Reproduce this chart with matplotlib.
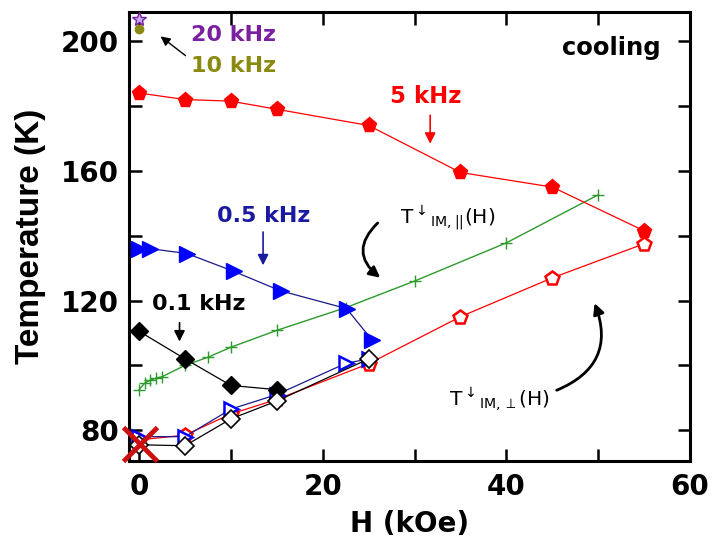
import matplotlib
matplotlib.use('Agg')
import matplotlib.pyplot as plt
from matplotlib.ticker import MultipleLocator

plt.rcParams['font.family'] = ['DejaVu Sans']
plt.rcParams['mathtext.fontset'] = 'dejavusans'

# 5 kHz (filled / open pentagons)
h_5k = [0, 5, 10, 15, 25, 35, 45, 55]
t_5k_par = [184, 182, 181.5, 179, 174, 159.5, 155, 141.5]
t_5k_perp = [77, 78.5, 85, 89.5, 100.5, 115, 127, 137.5]

# 0.5 kHz (filled / open triangles)
h_05k_par = [0, 1.2, 5.2, 10.3, 15.4, 22.6, 25.4]
t_05k_par = [136, 136, 134.5, 129, 123, 117.5, 107.7]
h_05k_perp = [0, 5, 10, 15, 22.5, 25]
t_05k_perp = [78, 78, 86.5, 91, 100.6, 102]

# 0.1 kHz (filled / open diamonds)
h_01k_par = [0, 5, 10, 15]
t_01k_par = [110.5, 102, 93.8, 92.5]
h_01k_perp = [0, 5, 10, 15, 25]
t_01k_perp = [75.5, 75.2, 83.5, 89, 102]

# T_IM,|| (green crosses)
h_green = [0, 0.6, 1.2, 1.8, 2.5, 5, 7.5, 10, 15, 22.5, 30, 40, 50]
t_green = [92.5, 94.5, 95.4, 96, 96.5, 100, 102.5, 105.6, 110.8, 117.8, 126, 137.8, 152.6]

# single points
h_20k, t_20k = [0], [206.8]
h_10k, t_10k = [0], [203.7]
h_x, t_x = [0.1], [75.6]

fig = plt.figure(figsize=(7.14, 5.46), dpi=100)
ax = fig.add_axes([0.1807, 0.1557, 0.7857, 0.8223])

red = '#ff0000'
blue = '#0000ff'
navy = '#1a1a8a'
green = '#2e9a2e'
purple = '#7a1fa0'
olive = '#8a8a10'

ax.plot(h_5k, t_5k_par, '-', color=red, lw=0.9, marker='p', ms=11,
        mfc=red, mec=red, zorder=3)
ax.plot(h_5k, t_5k_perp, '-', color=red, lw=0.9, marker='p', ms=10,
        mfc='white', mec=red, mew=1.8, zorder=3)
ax.plot(h_green, t_green, '-', color=green, lw=1.0, marker='+', ms=9,
        mew=1.0, zorder=2)
ax.plot(h_05k_par, t_05k_par, '-', color=navy, lw=0.9, marker='>', ms=11,
        mfc=blue, mec=blue, zorder=4)
ax.plot(h_05k_perp, t_05k_perp, '-', color=navy, lw=0.9, marker='>', ms=10,
        mfc='white', mec=blue, mew=1.8, zorder=4)
ax.plot(h_01k_par, t_01k_par, '-', color='black', lw=0.9, marker='D', ms=9,
        mfc='black', mec='black', zorder=5)
ax.plot(h_01k_perp, t_01k_perp, '-', color='black', lw=0.9, marker='D', ms=9,
        mfc='white', mec='black', mew=1.2, zorder=5)
ax.plot(h_20k, t_20k, '*', color=purple, ms=10, mfc='#c8a8e8', mec=purple, zorder=5)
ax.plot(h_10k, t_10k, 'o', color=olive, ms=6, mfc=olive, mec=olive, zorder=5)
ax.plot(h_x, t_x, 'x', color='#cc1010', ms=24, mew=3.5, zorder=6, clip_on=False)

ax.set_xlim(-1.1, 60)
ax.set_ylim(70.5, 209)
ax.xaxis.set_major_locator(MultipleLocator(20))
ax.xaxis.set_minor_locator(MultipleLocator(10))
ax.yaxis.set_major_locator(MultipleLocator(40))
ax.yaxis.set_minor_locator(MultipleLocator(20))
ax.tick_params(which='both', direction='in', top=True, right=True, width=1.8)
ax.tick_params(which='major', length=9, labelsize=20)
ax.tick_params(which='minor', length=9)
ax.tick_params(axis='x', pad=9)
ax.tick_params(axis='y', pad=7)
for lab in ax.get_xticklabels() + ax.get_yticklabels():
    lab.set_fontweight('bold')
for s in ax.spines.values():
    s.set_linewidth(2.2)

ax.set_xlabel('H (kOe)', fontsize=20, fontweight='bold', labelpad=6)
ax.set_ylabel('Temperature (K)', fontsize=24, fontweight='bold', labelpad=11,
              family='Liberation Sans')

# annotations
ax.text(10.3, 202, '20 kHz', color=purple, fontsize=16, fontweight='bold',
        ha='center', va='center')
ax.text(10.3, 192.3, '10 kHz', color=olive, fontsize=16, fontweight='bold',
        ha='center', va='center')
ax.annotate('', xy=(2.1, 202), xytext=(5.3, 195),
            arrowprops=dict(arrowstyle='-|>', color='black', lw=1.0, mutation_scale=14))
ax.text(56.8, 198, 'cooling', fontsize=17.5, fontweight='bold', ha='right', va='center')

ax.text(31.2, 183, '5 kHz', color=red, fontsize=16.5, fontweight='bold',
        ha='center', va='center')
ax.annotate('', xy=(31.7, 167.5), xytext=(31.7, 178),
            arrowprops=dict(arrowstyle='-|>', color=red, lw=1.2, mutation_scale=16))

ax.text(13.6, 146.2, '0.5 kHz', color='#1a1aa0', fontsize=16, fontweight='bold',
        ha='center', va='center')
ax.annotate('', xy=(13.5, 130), xytext=(13.5, 142),
            arrowprops=dict(arrowstyle='-|>', color='#1a1aa0', lw=1.2, mutation_scale=16))

ax.text(6.5, 118.9, '0.1 kHz', color='black', fontsize=16, fontweight='bold',
        ha='center', va='center')
ax.annotate('', xy=(4.4, 106.5), xytext=(4.4, 114),
            arrowprops=dict(arrowstyle='-|>', color='black', lw=1.2, mutation_scale=16))

ax.text(28.4, 145.5, r'T$^{\downarrow}$$_{\mathrm{IM,||}}$(H)', fontsize=14.5,
        ha='left', va='center')
ax.annotate('', xy=(26.5, 126.5), xytext=(26.2, 144.5),
            arrowprops=dict(arrowstyle='-|>', color='black', lw=2.0, mutation_scale=16,
                            connectionstyle='arc3,rad=0.6'))

ax.text(33.8, 89.2, r'T$^{\downarrow}$$_{\mathrm{IM},\perp}$(H)', fontsize=14.5,
        ha='left', va='center')
ax.annotate('', xy=(49.5, 120), xytext=(45.2, 92),
            arrowprops=dict(arrowstyle='-|>', color='black', lw=2.0, mutation_scale=16,
                            connectionstyle='arc3,rad=0.5'))

fig.savefig('out.png', dpi=100)
